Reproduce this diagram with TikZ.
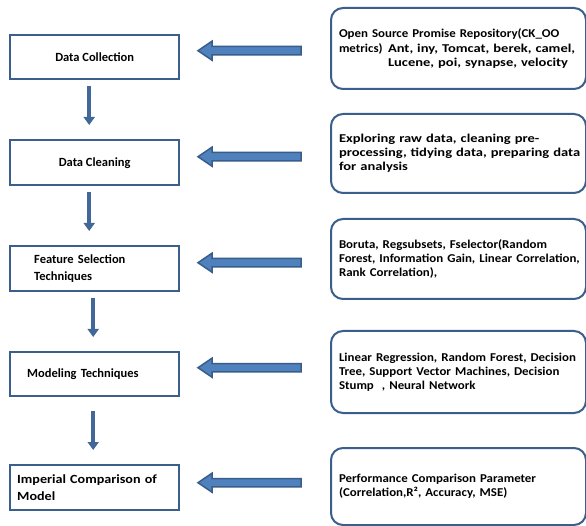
\documentclass[tikz,border=0pt]{standalone}
\usepackage{fontspec}
\setmainfont{Carlito}
\newfontfamily\nfont{Carlito}[FakeStretch=1.21]
\newfontfamily\cfont{Carlito}[FakeStretch=1.075]
\newfontfamily\lfont{Carlito}
\newfontfamily\lwfont{Carlito}[FakeStretch=1.13]
\usetikzlibrary{arrows.meta,calc}
\definecolor{boxblue}{HTML}{3A5F8C}
\definecolor{arrfill}{HTML}{4F81BD}
\definecolor{arrline}{HTML}{385D8A}
\definecolor{darrow}{HTML}{42689A}
\newcommand\blockarr[2]{%
  \path[blockarrow] let \p1=(#1), \p2=(#2) in
    (\x1,\y1+4.2pt) -- (\x2+14pt,\y1+4.2pt) -- (\x2+14pt,\y1+9.5pt) -- (\x2,\y1)
    -- (\x2+14pt,\y1-9.5pt) -- (\x2+14pt,\y1-4.2pt) -- (\x1,\y1-4.2pt) -- cycle;}
\begin{document}
\begin{tikzpicture}[x=1pt,y=-1pt,
  lbox/.style={draw=boxblue, line width=2.4pt, minimum width=169pt, inner sep=0pt,
    anchor=north west, text=black, font=\lfont\bfseries\fontsize{12.5}{17}\selectfont},
  rbox/.style={draw=boxblue, line width=2pt, rounded corners=12pt, minimum width=255pt,
    inner xsep=8pt, inner ysep=0pt, text width=239pt, align=left, anchor=north west,
    text=black, font=\bfseries\fontsize{12}{14.2}\selectfont},
  darr/.style={draw=darrow, line width=4.5pt, -{Triangle[width=11pt,length=8pt]},
    shorten <=6pt, shorten >=14pt},
  blockarrow/.style={fill=arrfill, draw=arrline, line width=1.5pt, line join=miter}]
\useasboundingbox (0,0) rectangle (586,526);
\fill[white] (0,0) rectangle (586,526);

% left column
\node[lbox, minimum height=44pt] (L1) at (9,34) {Data Collection};
\node[lbox, minimum height=45pt] (L2) at (9,139) {Data Cleaning};
\node[lbox, minimum height=45pt, inner xsep=24pt, text width=121pt, align=left] (L3) at (9,245)
  {\mbox{Feature Selection}\\\mbox{Techniques}};
\node[lbox, minimum height=44pt, inner xsep=17pt, text width=135pt, align=left] (L4) at (9,351)
  {\mbox{Modeling Techniques}};
\node[lbox, minimum height=45pt, inner xsep=7pt, text width=155pt, align=left] (L5) at (9,464)
  {\lwfont\raisebox{-3pt}{\mbox{Imperial Comparison of}}\\\raisebox{-3pt}{\mbox{Model}}};

% right column
\node[rbox, minimum height=81pt] (R1) at (330,7)
  {\mbox{\cfont Open Source Promise Repository(CK\_OO}\\
   \mbox{\makebox[49pt][l]{\cfont metrics)}\nfont Ant, iny, Tomcat, berek, camel,}\\
   \mbox{\hspace*{49pt}\nfont Lucene, poi, synapse, velocity}};
\node[rbox, minimum height=79pt] (R2) at (330,113)
  {\nfont\mbox{Exploring raw data, cleaning pre-}\\
   \mbox{processing, tidying data, preparing data}\\
   \mbox{for analysis}};
\node[rbox, minimum height=80pt] (R3) at (330,218)
  {\cfont\mbox{Boruta, Regsubsets, Fselector(Random}\\
   \mbox{Forest, Information Gain, Linear Correlation,}\\
   \mbox{Rank Correlation),}};
\node[rbox, minimum height=82pt] (R4) at (330,330)
  {\cfont\mbox{Linear Regression, Random Forest, Decision}\\
   \mbox{Tree, Support Vector Machines, Decision}\\
   \mbox{Stump\ \ , Neural Network}};
\node[rbox, minimum height=77pt] (R5) at (330,447)
  {\cfont\mbox{Performance Comparison Parameter}\\
   \mbox{(Correlation,R², Accuracy, MSE)}};

% down arrows
\draw[darr] ([xshift=-5.5pt]L1.south) -- ([xshift=-5.5pt]L2.north);
\draw[darr] ([xshift=-5.5pt]L2.south) -- ([xshift=-5.5pt]L3.north);
\draw[darr] ([xshift=-1.5pt]L3.south) -- ([xshift=-1.5pt]L4.north);
\draw[darr, shorten <=14pt] ([xshift=-1.5pt]L4.south) -- ([xshift=-1.5pt]L5.north);

% block arrows (from right boxes to left boxes)
\coordinate (t1) at (301,50.7);  \coordinate (h1) at (198,50.7);
\coordinate (t2) at (301,156.7); \coordinate (h2) at (198,156.7);
\coordinate (t3) at (301,262.7); \coordinate (h3) at (198,262.7);
\coordinate (t4) at (301,367.7); \coordinate (h4) at (198,367.7);
\coordinate (t5) at (301,482.7); \coordinate (h5) at (198,482.7);
\blockarr{t1}{h1}
\blockarr{t2}{h2}
\blockarr{t3}{h3}
\blockarr{t4}{h4}
\blockarr{t5}{h5}
\end{tikzpicture}
\end{document}
